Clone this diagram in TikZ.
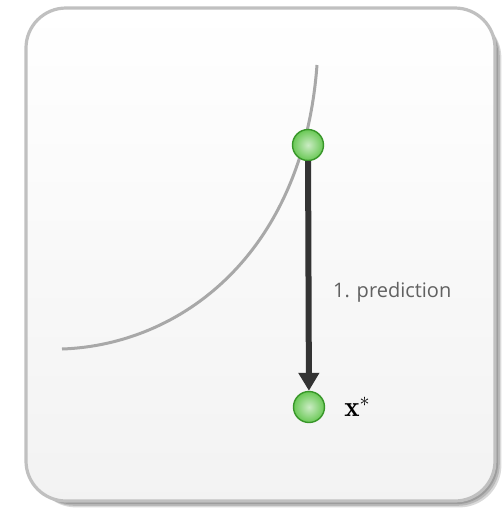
\documentclass[tikz,border=0pt]{standalone}
\usepackage{fontspec}
\newfontfamily\labelfont{Open Sans}
\usepackage{amsmath}
\usepackage{tikz}
\usetikzlibrary{arrows.meta,positioning,shadings}

\definecolor{panelline}{RGB}{192,192,192}
\definecolor{curvegray}{RGB}{168,168,168}
\definecolor{arrowdark}{RGB}{51,51,51}
\definecolor{balledge}{RGB}{55,150,40}
\definecolor{ballfill}{RGB}{105,200,85}

\begin{document}
\begin{tikzpicture}[
        x=0.5pt, y=-0.5pt,
        panel/.style={rounded corners=20pt, draw=panelline, line width=1.6pt, top color=white, bottom color=black!5},
        panelshadow/.style={black, opacity=0.15, rounded corners=21pt},
        ball/.style={circle, minimum size=15.5pt, inner sep=0pt, draw=balledge, line width=0.7pt, inner color=ballfill!35!white, outer color=ballfill},
        arrow/.style={-{Triangle[width=10pt,length=9pt]}, line width=3pt, arrowdark},
        curve/.style={curvegray, line width=1.5pt}
    ]
        \useasboundingbox (0,0) rectangle (503,511);

        % panel with soft shadow
        \foreach \d in {2,4,6,8} {
            \fill[panelshadow] (26+\d,8+\d) rectangle (495+\d*0.8,501+\d*0.8);
        }
        \draw[panel] (26,8) rectangle (495,501);

        % constraint curve
        \draw[curve] (62,349) .. controls (180,345) and (303,255) .. (317,65);

        \node[ball] (start) at (308,145) {};
        \node[ball] (pred) at (309,407) {};
        \node[right=6pt of pred, font=\fontsize{14.5}{16}\selectfont] (xstar) {$\mathbf{x}^{*}$};

        \draw[arrow] (start) -- (pred);
        \node[anchor=west, font=\labelfont\fontsize{10}{12}\selectfont, text=black!62] (step) at (326,292) {1. prediction};
    \end{tikzpicture}
\end{document}
